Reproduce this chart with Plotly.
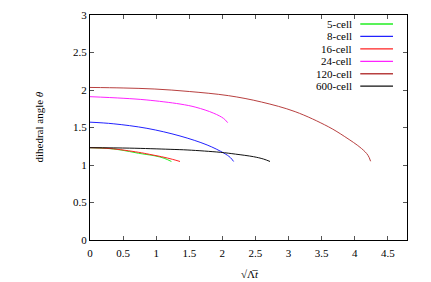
import plotly.graph_objects as go

names = ["5-cell", "8-cell", "16-cell", "24-cell", "120-cell", "600-cell"]
colors = ["#22ee22", "#2222ff", "#ff2222", "#ff22ff", "#b84040", "#111111"]

x5 = [0, 0.25, 0.47, 0.73, 0.98, 1.12, 1.23]
y5 = [1.231, 1.222, 1.200, 1.157, 1.122, 1.090, 1.047]

x8 = [0, 0.35, 0.86, 1.36, 1.77, 2.02, 2.12, 2.17]
y8 = [1.571, 1.550, 1.489, 1.387, 1.267, 1.160, 1.100, 1.047]

x16 = [0, 0.3, 0.73, 0.9, 1.08, 1.25, 1.36]
y16 = [1.231, 1.220, 1.170, 1.142, 1.111, 1.075, 1.047]

x24 = [0, 0.5, 0.86, 1.36, 1.6, 1.87, 2.02, 2.08]
y24 = [1.911, 1.890, 1.867, 1.813, 1.770, 1.690, 1.620, 1.565]

x120 = [0, 0.5, 0.98, 1.5, 2.09, 2.59, 3.1, 3.6, 3.85, 4.1, 4.2, 4.24]
y120 = [2.034, 2.027, 2.013, 1.980, 1.925, 1.840, 1.711, 1.511, 1.378, 1.222, 1.130, 1.050]

x600 = [0, 0.6, 1.21, 1.48, 1.97, 2.2, 2.47, 2.62, 2.72]
y600 = [1.231, 1.225, 1.209, 1.200, 1.169, 1.145, 1.111, 1.080, 1.047]

xs = [x5, x8, x16, x24, x120, x600]
ys = [y5, y8, y16, y24, y120, y600]

x_ticks = [0, 0.5, 1, 1.5, 2, 2.5, 3, 3.5, 4, 4.5]
y_ticks = [0, 0.5, 1, 1.5, 2, 2.5, 3]

FONT = "Liberation Serif"
TXT = dict(family=FONT, size=11, color="black")

fig = go.Figure()
for n, c, xv, yv in zip(names, colors, xs, ys):
    fig.add_trace(go.Scatter(x=xv, y=yv, mode="lines", name=n,
                             line=dict(color=c, width=1, shape="spline", smoothing=1.0),
                             showlegend=False))

# gnuplot-style legend: text right-aligned, sample line on the right
row_y0 = 0.96
row_dy = 0.0553
for i, (n, c) in enumerate(zip(names, colors)):
    yy = row_y0 - i * row_dy
    fig.add_annotation(x=0.8314, y=yy, xref="paper", yref="paper", text=n,
                       showarrow=False, xanchor="right", yanchor="middle", font=TXT)
    fig.add_shape(type="line", xref="paper", yref="paper",
                  x0=0.8526, x1=0.9558, y0=yy, y1=yy,
                  line=dict(color=c, width=1.3))

# axis titles
fig.add_annotation(x=0.505, y=-0.15, xref="paper", yref="paper",
                   text="√Λ̅<i>t</i>", showarrow=False,
                   xanchor="center", yanchor="middle", font=TXT)
fig.add_annotation(x=-0.164, y=0.5, xref="paper", yref="paper",
                   text="dihedral angle <i>θ</i>", showarrow=False, textangle=-90,
                   xanchor="center", yanchor="middle", font=TXT)

axis_common = dict(showgrid=False, zeroline=False, showline=True, linecolor="black",
                   linewidth=1, mirror="ticks", ticks="inside", ticklen=4,
                   tickcolor="#555555", tickwidth=1, automargin=False,
                   tickfont=TXT)

fig.update_xaxes(range=[0, 4.79], tickvals=x_ticks, ticklabelstandoff=3,
                 ticktext=[f"{v:g}" for v in x_ticks], **axis_common)
fig.update_yaxes(range=[0, 3], tickvals=y_ticks,
                 ticktext=[f"{v:g}" for v in y_ticks], **axis_common)

fig.update_layout(width=423, height=274,
                  margin=dict(l=82, r=24, t=7, b=42),
                  plot_bgcolor="white", paper_bgcolor="white",
                  font=TXT)

fig.write_html("out.html")
